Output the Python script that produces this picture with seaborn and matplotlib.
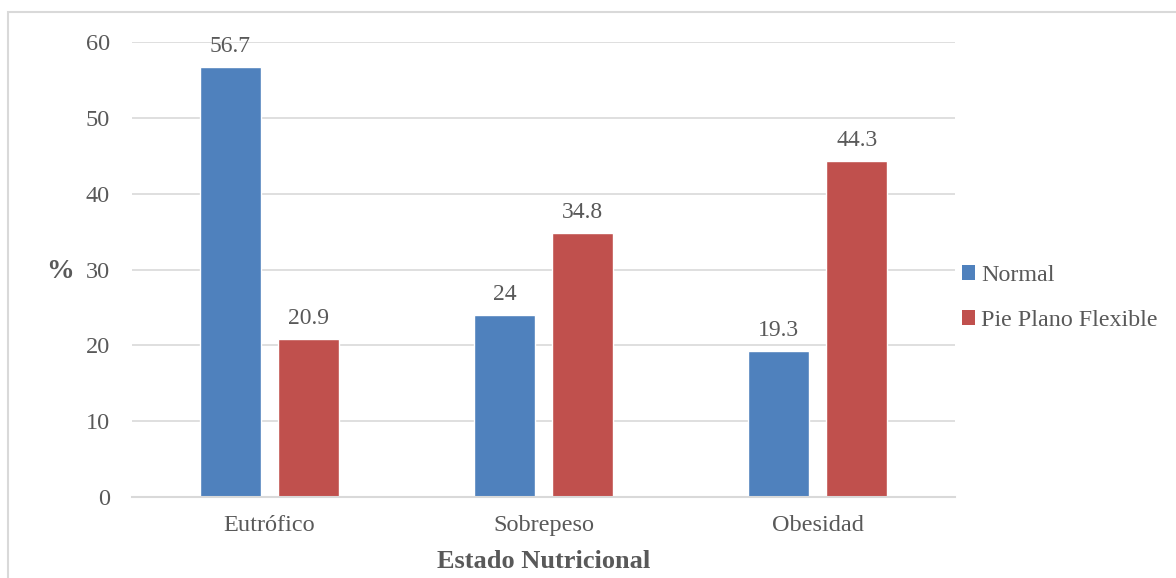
import matplotlib
matplotlib.use("Agg")
import matplotlib.pyplot as plt
from matplotlib.patches import Rectangle, Patch
import seaborn as sns
import pandas as pd

categories = ["Eutrófico", "Sobrepeso", "Obesidad"]
series_names = ["Normal", "Pie Plano Flexible"]
normal = [56.7, 24, 19.3]
pie_plano = [20.9, 34.8, 44.3]
y_ticks = [0, 10, 20, 30, 40, 50, 60]

colors = ["#4F81BD", "#C0504D"]
text_color = "#595959"
grid_color = "#D9D9D9"

df = pd.DataFrame({
    "Estado": categories * 2,
    "Grupo": [series_names[0]] * 3 + [series_names[1]] * 3,
    "Valor": normal + pie_plano,
})

sns.set_theme(style="white")
plt.rcParams["font.family"] = ["Liberation Serif", "DejaVu Serif"]

fig = plt.figure(figsize=(11.76, 5.78), dpi=100)
ax = fig.add_axes([132 / 1176, 1 - 497 / 578, (955 - 132) / 1176, (497 - 42) / 578])

sns.barplot(data=df, x="Estado", y="Valor", hue="Grupo", order=categories,
            hue_order=series_names, palette=colors, width=0.57, gap=0.22,
            saturation=1, ax=ax, legend=False)

ax.set_ylim(0, 60)
ax.set_xlim(-0.5, 2.5)
ax.set_yticks(y_ticks)
ax.yaxis.grid(True, color=grid_color, linewidth=1.2)
ax.set_axisbelow(True)
for side in ["top", "right", "left"]:
    ax.spines[side].set_visible(False)
ax.spines["bottom"].set_color(grid_color)
ax.spines["bottom"].set_linewidth(1.5)
ax.tick_params(axis="both", length=0, labelsize=17.5, colors=text_color)
ax.tick_params(axis="y", pad=16)
ax.tick_params(axis="x", pad=13)

for cont in ax.containers:
    ax.bar_label(cont, labels=[f"{v:g}" for v in cont.datavalues],
                 padding=7, fontsize=17, color=text_color)

ax.set_xlabel("Estado Nutricional", fontsize=19, fontweight="bold",
              color=text_color, labelpad=10)
ax.set_ylabel("")
fig.text(60 / 1176, 1 - 272 / 578, "%", fontsize=20, fontweight="bold",
         color=text_color, ha="center", va="center")

handles = [Patch(facecolor=c, edgecolor="none") for c in colors]
fig.legend(handles, series_names, loc="center left",
           bbox_to_anchor=(952 / 1176, 1 - 298 / 578), frameon=False,
           fontsize=17.3, labelcolor=text_color, handlelength=0.55,
           handleheight=0.55, handletextpad=0.25, labelspacing=1.0,
           borderpad=0.2, borderaxespad=0.2)

fig.patches.append(Rectangle((8 / 1176, -0.05), 1.2, 1 - 12 / 578 + 0.05,
                             transform=fig.transFigure, fill=False,
                             edgecolor="#D9D9D9", linewidth=1.5))

fig.savefig("out.png", dpi=100)
